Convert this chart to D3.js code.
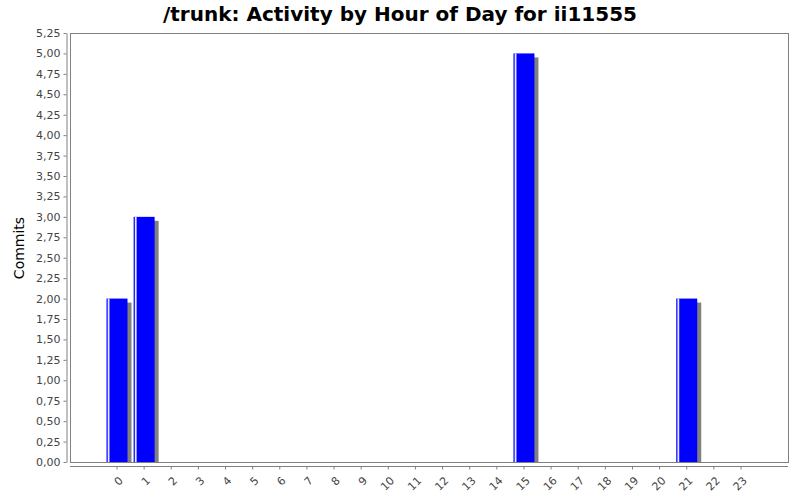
<!DOCTYPE html>
<html lang="en">
<head>
    <meta charset="UTF-8">
    <title>Activity by Hour of Day</title>
    <script src="https://d3js.org/d3.v7.min.js"></script>
    <style>
        body { margin: 0; background: #fff; }
        text { font-family: "DejaVu Sans", sans-serif; }
    </style>
</head>
<body>
    <svg width="800" height="500"></svg>

    <script>
        // Data
        const hours = d3.range(24).map(String);
        const commits = [2, 3, 0, 0, 0, 0, 0, 0, 0, 0, 0, 0, 0, 0, 0, 5, 0, 0, 0, 0, 0, 2, 0, 0];
        const yTicks = d3.range(0, 5.26, 0.25);
        const title = "/trunk: Activity by Hour of Day for ii11555";

        const width = 800, height = 500;
        const plot = { left: 70, right: 788, top: 33, bottom: 462 };

        const svg = d3.select("svg");

        svg.append("rect").attr("width", width).attr("height", height).attr("fill", "#fff");

        // Scales
        const x = d3.scaleBand()
            .domain(hours)
            .range([106.5, 751.5])
            .paddingInner(0.226);

        const y = d3.scaleLinear()
            .domain([0, 5.25])
            .range([plot.bottom, plot.top]);

        const fmt = v => d3.format(".2f")(v).replace(".", ",");

        // Title
        svg.append("text")
            .attr("x", 400).attr("y", 21)
            .attr("text-anchor", "middle")
            .attr("font-size", 20).attr("font-weight", "bold")
            .attr("fill", "#000")
            .text(title);

        // Plot outline
        svg.append("rect")
            .attr("x", plot.left + 0.5).attr("y", plot.top + 0.5)
            .attr("width", plot.right - plot.left).attr("height", plot.bottom - plot.top)
            .attr("fill", "none").attr("stroke", "#808080");

        // Bars with shadows
        svg.append("clipPath").attr("id", "clip")
            .append("rect")
            .attr("x", plot.left + 1).attr("y", plot.top + 1)
            .attr("width", plot.right - plot.left - 1).attr("height", plot.bottom - plot.top);

        const bars = svg.append("g").attr("clip-path", "url(#clip)");
        const data = hours.map((h, i) => ({ h, v: commits[i] })).filter(d => d.v > 0);

        bars.selectAll(".shadow").data(data).join("rect")
            .attr("x", d => x(d.h) + 4)
            .attr("y", d => y(d.v) + 4)
            .attr("width", x.bandwidth())
            .attr("height", d => y(0) - y(d.v))
            .attr("fill", "#808080");

        bars.selectAll(".bar").data(data).join("rect")
            .attr("x", d => x(d.h))
            .attr("y", d => y(d.v))
            .attr("width", x.bandwidth())
            .attr("height", d => y(0) - y(d.v))
            .attr("fill", "#0000ff");

        // highlight strip on left side of each bar
        bars.selectAll(".hl").data(data).join("rect")
            .attr("x", d => x(d.h) + 1.2)
            .attr("y", d => y(d.v))
            .attr("width", 1.8)
            .attr("height", d => y(0) - y(d.v))
            .attr("fill", "#e8e8ff");

        // Y axis
        const yAxis = svg.append("g")
            .attr("transform", "translate(66.5,0)")
            .call(d3.axisLeft(y).tickValues(yTicks).tickFormat(fmt).tickSizeOuter(0).tickSizeInner(3).tickPadding(3));
        yAxis.select(".domain").attr("stroke", "#808080");
        yAxis.selectAll(".tick line").attr("stroke", "#808080");
        yAxis.selectAll("text").attr("font-size", 11).attr("fill", "#444")
            .attr("font-family", "DejaVu Sans, sans-serif");

        // X axis
        const xAxis = svg.append("g")
            .attr("transform", "translate(0,466.5)")
            .call(d3.axisBottom(x).tickSizeOuter(0).tickSizeInner(3));
        xAxis.select(".domain").attr("d", `M${plot.left},0H${plot.right}`).attr("stroke", "#808080");
        xAxis.selectAll(".tick line").attr("stroke", "#808080");
        xAxis.selectAll("text")
            .attr("font-size", 11).attr("fill", "#444")
            .attr("font-family", "DejaVu Sans, sans-serif")
            .attr("text-anchor", "end")
            .attr("dy", "0.35em")
            .attr("transform", "translate(4,12) rotate(-45)")
            .attr("y", 0).attr("x", 0);

        // Y label
        svg.append("text")
            .attr("transform", "translate(24,248) rotate(-90)")
            .attr("text-anchor", "middle")
            .attr("font-size", 14)
            .attr("fill", "#000")
            .text("Commits");
    </script>
</body>
</html>
